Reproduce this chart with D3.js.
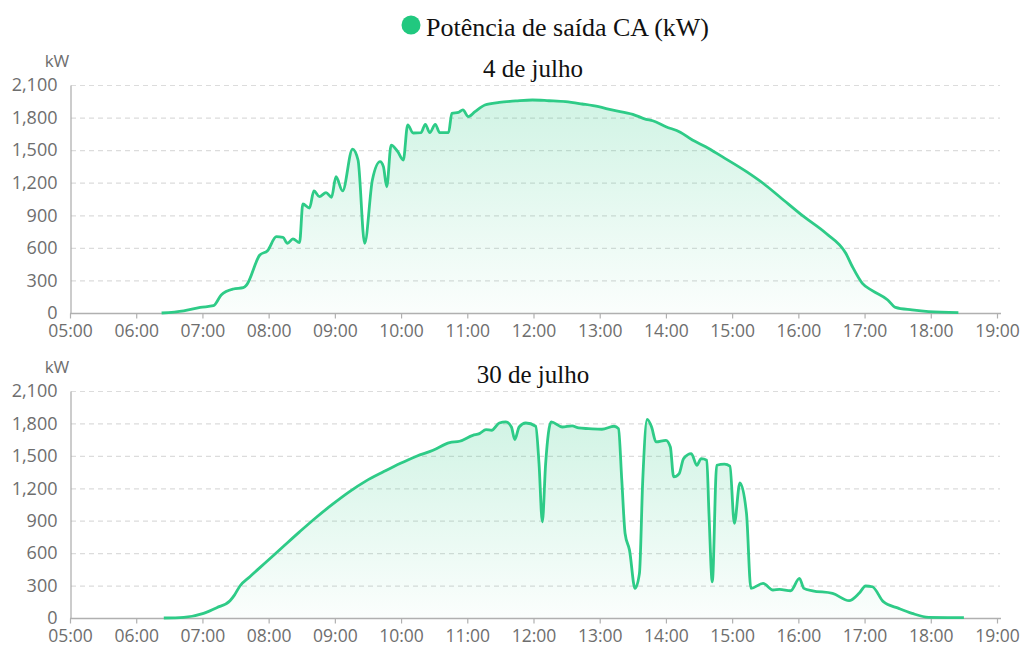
<!DOCTYPE html>
<html>
<head>
<meta charset="utf-8">
<script src="https://cdn.jsdelivr.net/npm/d3@7"></script>
<style>
  body { margin: 0; background: #fff; }
  svg { display: block; }
</style>
</head>
<body>
<svg id="chart" width="1024" height="646"></svg>
<script>
// Potência de saída CA — 4 de julho
const julho4Times = ["06:23","06:43","06:58","07:10","07:17","07:28","07:37","07:40","07:52","07:59",
  "08:07","08:13","08:17","08:22","08:28","08:31","08:37","08:41","08:46","08:52","08:57",
  "09:01","09:07","09:16","09:21","09:27","09:34","09:41","09:44","09:47","09:51","09:57",
  "10:02","10:06","10:11","10:18","10:22","10:26","10:31","10:35","10:43","10:46","10:52","10:56",
  "11:01","11:07","11:16","11:29","11:44","11:59","12:14","12:29","12:44","12:59",
  "13:11","13:30","13:42","13:48","14:00","14:13","14:24","14:36","14:51",
  "15:13","15:28","15:43","16:05","16:25","16:43","16:49","16:58","17:07","17:21","17:28",
  "17:43","17:58","18:25"];
const julho4Values = [0,20,52,67,166,221,233,258,534,574,
  703,697,642,682,648,1004,967,1124,1072,1108,1066,
  1255,1124,1510,1409,642,1225,1394,1348,1163,1547,1486,
  1409,1732,1658,1661,1738,1661,1738,1661,1661,1839,1848,1870,
  1808,1854,1916,1940,1953,1962,1955,1946,1925,1900,
  1870,1830,1784,1771,1716,1665,1593,1532,1440,
  1302,1195,1071,887,734,550,426,273,206,120,52,
  28,12,3];

// Potência de saída CA — 30 de julho
const julho30Times = ["06:25","06:43","07:01","07:13","07:25","07:29","07:34","07:43","07:58",
  "08:13","08:28","08:43","08:58","09:13","09:28","09:44","09:59","10:14","10:29","10:44","10:53",
  "11:05","11:11","11:17","11:22","11:29","11:35","11:40","11:43","11:47","11:53",
  "12:02","12:05","12:08","12:11","12:16","12:26","12:35","12:41","12:50",
  "13:02","13:13","13:17","13:20","13:23","13:27","13:32","13:36","13:39","13:43","13:47","13:51",
  "14:00","14:04","14:07","14:12","14:16","14:23","14:28","14:32","14:37","14:39","14:42","14:46","14:53","14:58",
  "15:02","15:07","15:13","15:17","15:28","15:37","15:43","15:53",
  "16:01","16:05","16:13","16:31","16:46","16:55","17:01","17:07","17:17","17:31","17:43","17:58","18:30"];
const julho30Values = [0,6,43,95,160,212,296,382,520,
  659,797,930,1053,1167,1266,1352,1429,1497,1552,1623,1635,
  1690,1706,1743,1737,1804,1814,1767,1651,1767,1804,
  1774,1429,890,1429,1814,1767,1777,1758,1752,
  1746,1774,1752,1275,782,628,274,413,1275,1838,1767,1629,
  1644,1582,1305,1336,1475,1521,1413,1475,1460,967,335,1413,1423,1404,
  875,1250,967,274,320,259,265,252,
  367,274,252,228,160,228,296,289,151,89,43,6,3];

const panelTitles = ["4 de julho", "30 de julho"];
const yTicks = [0, 300, 600, 900, 1200, 1500, 1800, 2100];
const xTickHours = d3.range(5, 20);
const legendLabel = "Potência de saída CA (kW)";
const unitLabel = "kW";

const lineColor = "#2ecb87";
const sansFont = "'Open Sans', 'Noto Sans', sans-serif";
const serifFont = "'Liberation Serif', 'Times New Roman', serif";
const svg = d3.select("#chart");
const parseTime = d3.timeParse("%H:%M");
const fmtTick = d3.timeFormat("%H:%M");
const numFmt = d3.format(",");

const defs = svg.append("defs");
const grad = defs.append("linearGradient")
  .attr("id", "areaFill").attr("x1", 0).attr("y1", 0).attr("x2", 0).attr("y2", 1);
grad.append("stop").attr("offset", "0%").attr("stop-color", lineColor).attr("stop-opacity", 0.22);
grad.append("stop").attr("offset", "100%").attr("stop-color", lineColor).attr("stop-opacity", 0.02);

// legend
const legend = svg.append("g");
legend.append("circle").attr("cx", 411).attr("cy", 25).attr("r", 9.5).attr("fill", "#21c87f");
legend.append("text")
  .attr("x", 426).attr("y", 36)
  .attr("font-family", serifFont)
  .attr("font-size", 26).attr("fill", "#111")
  .text(legendLabel);

const x = d3.scaleTime()
  .domain([parseTime("05:00"), parseTime("19:00")])
  .range([70, 997]);

const panels = [
  { times: julho4Times, values: julho4Values, top: 85, bottom: 313, title: panelTitles[0] },
  { times: julho30Times, values: julho30Values, top: 391, bottom: 618, title: panelTitles[1] }
];

panels.forEach(p => {
  const data = p.times.map((t, i) => ({ t: parseTime(t), v: p.values[i] }));
  const y = d3.scaleLinear().domain([0, 2100]).range([p.bottom, p.top]);
  const g = svg.append("g");

  // horizontal grid
  g.append("g").selectAll("line")
    .data(yTicks.filter(d => d > 0))
    .join("line")
    .attr("x1", 71).attr("x2", 1000)
    .attr("y1", d => y(d) + 0.5).attr("y2", d => y(d) + 0.5)
    .attr("stroke", "#dcdcdc").attr("stroke-width", 1.2)
    .attr("stroke-dasharray", "5,4");

  // y axis
  const yAxis = g.append("g")
    .attr("transform", `translate(70.5,0)`)
    .call(d3.axisLeft(y).tickValues(yTicks).tickSize(0).tickPadding(13).tickFormat(numFmt));
  yAxis.select(".domain").attr("stroke", "#aaaaaa").attr("stroke-width", 1.2);
  yAxis.selectAll("text")
    .attr("font-family", sansFont)
    .attr("font-size", 18).attr("fill", "#6e6e6e");

  // unit label
  g.append("text")
    .attr("x", 57).attr("y", p.top - 18)
    .attr("text-anchor", "middle")
    .attr("font-family", sansFont)
    .attr("font-size", 17).attr("fill", "#6e6e6e")
    .text(unitLabel);

  // area + line
  const area = d3.area()
    .x(d => x(d.t)).y0(y(0)).y1(d => y(d.v))
    .curve(d3.curveMonotoneX);
  const line = d3.line()
    .x(d => x(d.t)).y(d => y(d.v))
    .curve(d3.curveMonotoneX);

  g.append("path").datum(data).attr("d", area).attr("fill", "url(#areaFill)");

  // x axis
  const xAxis = g.append("g")
    .attr("transform", `translate(0,${p.bottom + 0.5})`)
    .call(d3.axisBottom(x)
      .tickValues(xTickHours.map(h => parseTime(String(h).padStart(2, "0") + ":00")))
      .tickSize(5).tickSizeOuter(0).tickPadding(6).tickFormat(fmtTick));
  xAxis.select(".domain").attr("stroke", "#b0b0b0").attr("stroke-width", 1.5)
    .attr("d", `M70,0H1001`);
  xAxis.selectAll(".tick line").attr("stroke", "#b0b0b0").attr("stroke-width", 1.2);
  xAxis.selectAll("text")
    .attr("font-family", sansFont)
    .attr("font-size", 17.5).attr("fill", "#6e6e6e");

  g.append("path").datum(data).attr("d", line)
    .attr("fill", "none").attr("stroke", lineColor)
    .attr("stroke-width", 2.8).attr("stroke-linejoin", "round");

  // panel title
  g.append("text")
    .attr("x", 533).attr("y", p.top - 8)
    .attr("text-anchor", "middle")
    .attr("font-family", serifFont)
    .attr("font-size", 25).attr("fill", "#111")
    .text(p.title);
});
</script>
</body>
</html>
